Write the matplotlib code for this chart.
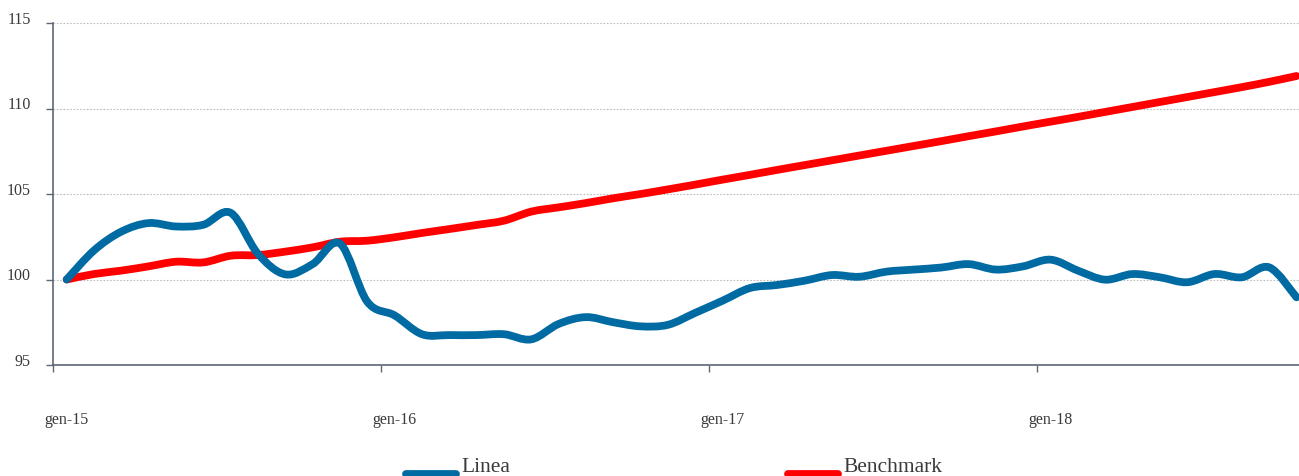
import matplotlib

matplotlib.use("Agg")
import matplotlib.pyplot as plt
from matplotlib.lines import Line2D
from matplotlib.patches import PathPatch
from matplotlib.path import Path

mesi = ["gen", "feb", "mar", "apr", "mag", "giu", "lug", "ago", "set", "ott", "nov", "dic"]
periodi = [f"{m}-{a}" for a in (15, 16, 17, 18) for m in mesi][:46]

linea = [100.0, 101.7, 102.8, 103.3, 103.1, 103.2, 103.9, 101.5, 100.3, 100.9, 102.1, 98.7,
         97.9, 96.8, 96.75, 96.75, 96.8, 96.5, 97.4, 97.8, 97.5, 97.26, 97.35, 98.05,
         98.76, 99.5, 99.68, 99.93, 100.26, 100.16, 100.46, 100.58, 100.7, 100.9, 100.58, 100.77,
         101.16, 100.52, 99.99, 100.32, 100.13, 99.84, 100.32, 100.13, 100.71, 98.96]
benchmark = [100.0, 100.32, 100.52, 100.77, 101.04, 101.0, 101.39, 101.43, 101.63, 101.88, 102.21, 102.27,
             102.47, 102.72, 102.95, 103.19, 103.44, 103.97, 104.22, 104.47, 104.75, 105.0, 105.27, 105.55,
             105.84, 106.12, 106.41, 106.69, 106.97, 107.25, 107.53, 107.81, 108.09, 108.38, 108.66, 108.95,
             109.23, 109.51, 109.8, 110.09, 110.38, 110.67, 110.96, 111.25, 111.56, 111.9]

BLUE = "#006aa2"
RED = "#ff0000"
AXIS = "#5d6874"
TEXT = "#3a3a3a"

plt.rcParams["font.family"] = ["Liberation Serif", "DejaVu Serif"]


def smooth_path(xs, ys):
    # smoothed line like the spreadsheet one: cubic bezier through every point
    pts = list(zip(xs, ys))
    verts = [pts[0]]
    codes = [Path.MOVETO]
    n = len(pts)
    for i in range(n - 1):
        p0 = pts[max(i - 1, 0)]
        p1 = pts[i]
        p2 = pts[i + 1]
        p3 = pts[min(i + 2, n - 1)]
        c1 = (p1[0] + (p2[0] - p0[0]) / 6, p1[1] + (p2[1] - p0[1]) / 6)
        c2 = (p2[0] - (p3[0] - p1[0]) / 6, p2[1] - (p3[1] - p1[1]) / 6)
        verts += [c1, c2, p2]
        codes += [Path.CURVE4] * 3
    return Path(verts, codes)


W, H = 1299, 477
fig = plt.figure(figsize=(W / 100, H / 100), dpi=100)
ax = fig.add_axes([53 / W, 1 - 366 / H, (W - 53) / W, (366 - 24) / H])

x = list(range(len(periodi)))
for serie, colore in ((benchmark, RED), (linea, BLUE)):
    ax.add_patch(PathPatch(smooth_path(x, serie), fill=False, edgecolor=colore,
                           linewidth=5.6, capstyle="round", joinstyle="round"))

ax.set_xlim(-0.5, -0.5 + (W - 53) / 27.33)
ax.set_ylim(95, 115)
ax.set_yticks([95, 100, 105, 110, 115])
ax.yaxis.grid(True, linestyle=(0, (1.5, 1.5)), color="#bcbcbc", linewidth=0.8)
ax.set_axisbelow(True)

ax.set_xticks([-0.5, 11.5, 23.5, 35.5])
ax.set_xticklabels([])
ax.set_xticks([0, 12, 24, 36], minor=True)
ax.set_xticklabels([periodi[i] for i in (0, 12, 24, 36)], minor=True)
ax.tick_params(axis="x", which="major", length=5, width=1, color=AXIS, direction="out")
ax.tick_params(axis="x", which="minor", length=0, pad=33, labelsize=11.5, labelcolor=TEXT)
ax.tick_params(axis="y", length=5, width=1, color=AXIS, direction="out", pad=11,
               labelsize=11.5, labelcolor=TEXT)
for t in ax.get_yticklabels():
    t.set_verticalalignment("baseline")

for side in ("top", "right"):
    ax.spines[side].set_visible(False)
for side in ("left", "bottom"):
    ax.spines[side].set_color(AXIS)
    ax.spines[side].set_linewidth(1.2)

# legend drawn under the plot, handles sit at the text baseline
for x0, x1, colore, nome in ((406, 456, BLUE, "Linea"), (788, 838, RED, "Benchmark")):
    fig.add_artist(Line2D([x0 / W, x1 / W], [1 - 474.5 / H, 1 - 474.5 / H], color=colore,
                          linewidth=5.6, solid_capstyle="round", transform=fig.transFigure))
    fig.text((x1 + 5) / W, 1 - 472 / H, nome, fontsize=15.5, color=TEXT, va="baseline", ha="left")

fig.savefig("out.png", dpi=100)
plt.close(fig)
